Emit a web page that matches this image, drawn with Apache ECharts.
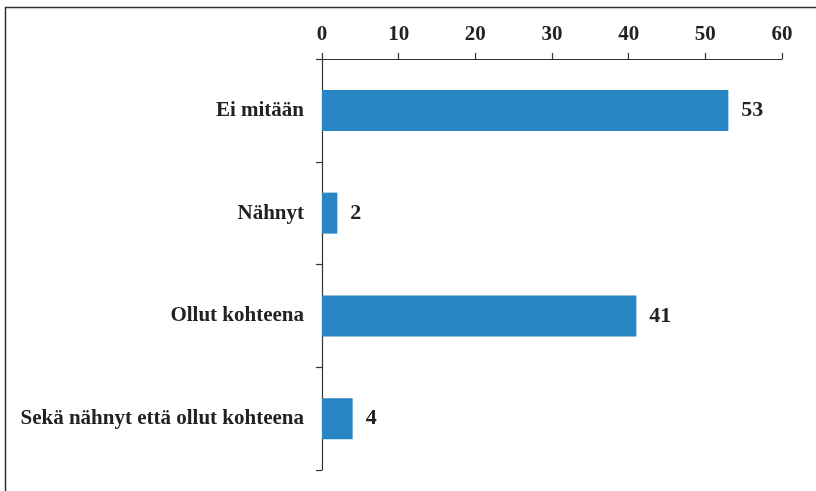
<!DOCTYPE html>
<html><head><meta charset="utf-8">
<script src="https://cdn.jsdelivr.net/npm/echarts@6/dist/echarts.min.js"></script>
<style>html,body{margin:0;padding:0;background:#fff}#c{width:816px;height:491px}</style>
</head><body><div id="c"></div>
<script>
const categories = ['Ei mitään', 'Nähnyt', 'Ollut kohteena', 'Sekä nähnyt että ollut kohteena'];
const values = [53, 2, 41, 4];
const xTicks = [0, 10, 20, 30, 40, 50, 60];

const font = '"Liberation Serif", "Times New Roman", serif';
const chart = echarts.init(document.getElementById('c'), null, {renderer: 'canvas'});
chart.setOption({
  animation: false,
  backgroundColor: '#fff',
  graphic: [{
    type: 'rect', left: 3, top: 5, silent: true,
    shape: {width: 840, height: 520},
    style: {fill: 'none', stroke: '#333', lineWidth: 1.5}
  }],
  grid: {left: 322, right: 34, top: 59, bottom: 21, containLabel: false},
  xAxis: {
    type: 'value', position: 'top', min: xTicks[0], max: xTicks[xTicks.length - 1], interval: 10,
    axisLine: {show: true, lineStyle: {color: '#333', width: 1.2}},
    axisTick: {show: true, length: 6, lineStyle: {color: '#333', width: 1.2}},
    axisLabel: {color: '#222', fontFamily: font, fontWeight: 'bold', fontSize: 21, margin: 14},
    splitLine: {show: false}
  },
  yAxis: {
    type: 'category', inverse: true, data: categories,
    axisLine: {show: true, lineStyle: {color: '#333', width: 1.2}},
    axisTick: {show: true, length: 6, lineStyle: {color: '#333', width: 1.2}},
    axisLabel: {color: '#222', fontFamily: font, fontWeight: 'bold', fontSize: 21, margin: 18}
  },
  series: [{
    type: 'bar', data: values, barWidth: 41,
    itemStyle: {color: '#2986c4'},
    label: {show: true, position: 'right', distance: 13, color: '#222', fontFamily: font, fontWeight: 'bold', fontSize: 22}
  }]
});
</script></body></html>
